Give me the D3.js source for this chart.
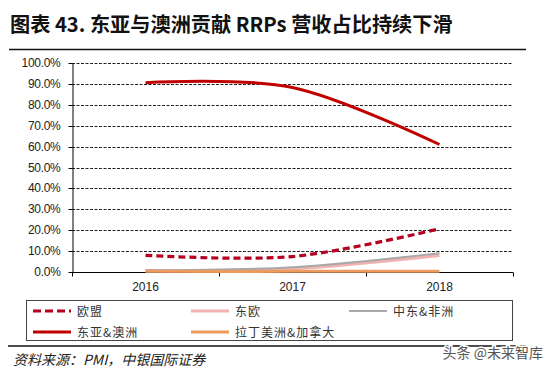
<!DOCTYPE html>
<html>
<head>
<meta charset="utf-8">
<script src="https://cdn.jsdelivr.net/npm/d3@7/dist/d3.min.js"></script>
<style>
	body { margin: 0; background: #fff; }
	svg { display: block; }
	.cjk { font-family: 'Noto Sans CJK SC', sans-serif; }
	.axis text { font-family: 'Liberation Sans', Arial, sans-serif; font-size: 12px; fill: #222; }
</style>
</head>
<body>
<div id="viz"></div>
<script>
const years = ['2016', '2017', '2018'];
const yTicks = [0, 0.1, 0.2, 0.3, 0.4, 0.5, 0.6, 0.7, 0.8, 0.9, 1.0];

// share of RRPs revenue per region
const eu = [0.080, 0.074, 0.207];
const eastEurope = [0.006, 0.016, 0.079];
const meAfrica = [0.008, 0.023, 0.090];
const eastAsiaAus = [0.906, 0.883, 0.610];
const latamCanada = [0.003, 0.003, 0.004];

const seriesNames = ['欧盟', '东欧', '中东&非洲', '东亚&澳洲', '拉丁美洲&加拿大'];

const WIDTH = 554, HEIGHT = 371;
const PLOT = { left: 72, right: 513, top: 63, bottom: 272 };

const styles = {
	'欧盟': { color: '#B4001E', width: 3.2, dash: '7,4' },
	'东欧': { color: '#F2B3B0', width: 3, dash: null },
	'中东&非洲': { color: '#A8A8A8', width: 2, dash: null },
	'东亚&澳洲': { color: '#C00000', width: 3, dash: null },
	'拉丁美洲&加拿大': { color: '#EE9A5C', width: 3, dash: null }
};

const seriesValues = [eu, eastEurope, meAfrica, eastAsiaAus, latamCanada];
const series = seriesNames.map((name, i) => ({ name: name, values: seriesValues[i] }));

const svg = d3.select('#viz').append('svg')
	.attr('width', WIDTH)
	.attr('height', HEIGHT);

svg.append('rect').attr('width', WIDTH).attr('height', HEIGHT).attr('fill', '#fff');

// title
svg.append('text')
	.attr('class', 'cjk')
	.attr('x', 10)
	.attr('y', 32)
	.attr('font-size', 20.2)
	.attr('font-weight', 'bold')
	.attr('fill', '#111')
	.text('图表 43. 东亚与澳洲贡献 RRPs 营收占比持续下滑');

svg.append('line')
	.attr('x1', 9).attr('x2', 526)
	.attr('y1', 49.5).attr('y2', 49.5)
	.attr('stroke', '#111')
	.attr('stroke-width', 1.5);

const xScale = d3.scalePoint()
	.domain(years)
	.range([PLOT.left, PLOT.right])
	.padding(0.5);

const xBand = d3.scaleBand()
	.domain(years)
	.range([PLOT.left, PLOT.right]);

const yScale = d3.scaleLinear()
	.domain([0, 1])
	.range([PLOT.bottom, PLOT.top]);

// gridlines
svg.append('g')
	.selectAll('line')
	.data(yTicks.slice(1))
	.join('line')
	.attr('x1', PLOT.left)
	.attr('x2', PLOT.right)
	.attr('y1', (d) => Math.round(yScale(d)) + 0.5)
	.attr('y2', (d) => Math.round(yScale(d)) + 0.5)
	.attr('stroke', '#222')
	.attr('stroke-width', 1)
	.attr('stroke-dasharray', '3,1.5');

// y axis
const yAxis = svg.append('g')
	.attr('class', 'axis')
	.attr('transform', 'translate(' + (PLOT.left + 0.5) + ',0)')
	.call(d3.axisLeft(yScale)
		.tickValues(yTicks)
		.tickFormat(d3.format('.1%'))
		.tickSizeInner(4)
		.tickSizeOuter(0)
		.tickPadding(8));
yAxis.select('.domain').attr('stroke', '#000');
yAxis.selectAll('.tick line').attr('stroke', '#000');
yAxis.selectAll('.tick').attr('transform', (d) => 'translate(0,' + (Math.round(yScale(d)) + 0.5) + ')');
yAxis.selectAll('.tick text').attr('letter-spacing', -0.3);

// x axis: ticks at category boundaries, labels at centres
const boundaries = years.map((y) => xBand(y)).concat([PLOT.right]);
const xAxisG = svg.append('g')
	.attr('class', 'axis')
	.attr('transform', 'translate(0,' + (PLOT.bottom + 0.5) + ')');

xAxisG.append('line')
	.attr('x1', PLOT.left).attr('x2', PLOT.right)
	.attr('stroke', '#000');

xAxisG.selectAll('.btick')
	.data(boundaries)
	.join('line')
	.attr('class', 'btick')
	.attr('x1', (d) => Math.round(d) + 0.5)
	.attr('x2', (d) => Math.round(d) + 0.5)
	.attr('y1', 0)
	.attr('y2', 4)
	.attr('stroke', '#000');

xAxisG.selectAll('.xlabel')
	.data(years)
	.join('text')
	.attr('class', 'xlabel')
	.attr('x', (d) => xScale(d))
	.attr('y', 18)
	.attr('text-anchor', 'middle')
	.attr('font-size', 12.5)
	.text((d) => d);

// lines
const lineGen = d3.line()
	.x((d, i) => xScale(years[i]))
	.y((d) => yScale(d))
	.curve(d3.curveCatmullRom.alpha(0));

svg.append('g')
	.selectAll('path')
	.data(series)
	.join('path')
	.attr('fill', 'none')
	.attr('stroke', (d) => styles[d.name].color)
	.attr('stroke-width', (d) => styles[d.name].width)
	.attr('stroke-dasharray', (d) => styles[d.name].dash)
	.attr('d', (d) => lineGen(d.values));

// legend
svg.append('rect')
	.attr('x', 26.5).attr('y', 300.5)
	.attr('width', 486).attr('height', 40)
	.attr('fill', 'none')
	.attr('stroke', '#444')
	.attr('stroke-width', 1);

const legendPos = [
	{ x: 33, y: 311 }, { x: 191, y: 311 }, { x: 349, y: 311 },
	{ x: 33, y: 332 }, { x: 191, y: 332 }
];

const legendItem = svg.append('g')
	.selectAll('g')
	.data(series)
	.join('g')
	.attr('transform', (d, i) => 'translate(' + legendPos[i].x + ',' + legendPos[i].y + ')');

legendItem.append('line')
	.attr('x1', 0).attr('x2', 38)
	.attr('stroke', (d) => styles[d.name].color)
	.attr('stroke-width', (d) => styles[d.name].width)
	.attr('stroke-dasharray', (d) => styles[d.name].dash ? '8,4' : null);

legendItem.append('text')
	.attr('class', 'cjk')
	.attr('x', 44)
	.attr('y', 4.5)
	.attr('font-size', 12)
	.attr('letter-spacing', 1)
	.attr('fill', '#333')
	.text((d) => d.name);

// footer
svg.append('line')
	.attr('x1', 8).attr('x2', 526)
	.attr('y1', 346).attr('y2', 346)
	.attr('stroke', '#111')
	.attr('stroke-width', 1.5);

svg.append('text')
	.attr('class', 'cjk')
	.attr('x', 13)
	.attr('y', 365)
	.attr('font-size', 14)
	.attr('font-style', 'italic')
	.attr('fill', '#222')
	.text('资料来源：PMI，中银国际证券');

svg.append('text')
	.attr('class', 'cjk')
	.attr('x', 543)
	.attr('y', 358)
	.attr('text-anchor', 'end')
	.attr('font-size', 14)
	.attr('fill', '#555')
	.attr('stroke', '#fff')
	.attr('stroke-width', 3)
	.attr('paint-order', 'stroke')
	.text('头条 @未来智库');
</script>
</body>
</html>
